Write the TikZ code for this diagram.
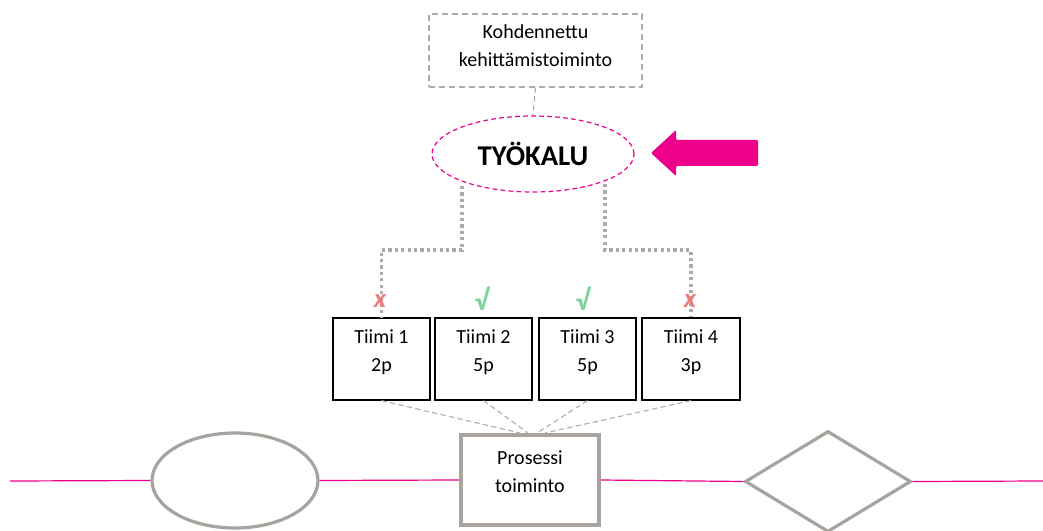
\documentclass[tikz,border=0pt]{standalone}
\usepackage{fontspec}
\setmainfont{Carlito}
\usetikzlibrary{shapes.geometric}
\definecolor{mag}{HTML}{EC008C}
\definecolor{gline}{HTML}{A8A39E}
\definecolor{dgrey}{HTML}{ABABAB}
\definecolor{xred}{HTML}{F07C7C}
\definecolor{vgreen}{HTML}{7ED39C}
\tikzset{
  txt/.style={font=\fontsize{15}{21}\selectfont, align=center},
  teambox/.style={txt, draw=black, line width=0.9pt, minimum width=72.75pt, minimum height=61.5pt, inner sep=0pt, text depth=12pt},
  dotline/.style={dgrey, line width=2.4pt, dash pattern=on 2.4pt off 2.4pt},
  thinDash/.style={dgrey, line width=0.8pt, dash pattern=on 4pt off 2.5pt},
  flow/.style={mag, line width=0.9pt},
  shapeline/.style={draw=gline, line width=2.4pt, fill=white},
  xmark/.style={text=xred, font=\fontsize{20}{20}\selectfont\bfseries\itshape},
  vmark/.style={text=vgreen, font=\fontsize{22}{22}\selectfont\bfseries},
}
\begin{document}
\begin{tikzpicture}[x=0.75pt,y=-0.75pt]
\useasboundingbox (0,0) rectangle (1043,531);
% top box
\node[txt, draw=dgrey, line width=0.8pt, dash pattern=on 4.5pt off 3pt, minimum width=159.75pt, minimum height=54.75pt, inner sep=0pt, text depth=7.5pt] (kb) at (535.5,50.5) {Kohdennettu\\kehittämistoiminto};
% tool ellipse
\node[ellipse, draw=mag, line width=0.9pt, dash pattern=on 3.5pt off 2.5pt, minimum width=151.5pt, minimum height=57pt, inner sep=0pt, font=\fontsize{21.5}{21.5}\selectfont\bfseries] (tool) at (533,154) {TYÖKALU};
\draw[thinDash] (kb.south) -- (tool.north);
% arrow
\fill[mag, rounded corners=0.8pt] (651,153) -- (676,130) -- (676,140) -- (758,140) -- (758,166) -- (676,166) -- (676,176) -- cycle;
% teams
\node[teambox] (t1) at (381.5,359) {Tiimi 1\\2p};
\node[teambox] (t2) at (483.5,359) {Tiimi 2\\5p};
\node[teambox] (t3) at (587.5,359) {Tiimi 3\\5p};
\node[teambox, minimum width=73.5pt] (t4) at (691,359) {Tiimi 4\\3p};
% dotted connectors
\coordinate (l1) at (462,186);
\coordinate (r1) at (605,184);
\draw[dotline] (l1) -- ++(0,64) -| (t1.north);
\draw[dotline] (r1) -- ++(0,66) -| (t4.north);
% marks
\node[xmark] (m1) at (380,301) {x};
\node[vmark] (m2) at (482,299) {√};
\node[vmark] (m3) at (583,299) {√};
\node[xmark] (m4) at (690,301) {x};
% process row
\node[shapeline, txt, draw=gline, line width=3pt, minimum width=103.5pt, minimum height=67.5pt, inner sep=0pt, text depth=13pt] (proc) at (530,480) {Prosessi\\toiminto};
\node[shapeline, ellipse, minimum width=124.5pt, minimum height=71.25pt, inner sep=0pt] (circ) at (235,480.5) {};
\node[shapeline, diamond, minimum width=124.5pt, minimum height=75.75pt, inner sep=0pt] (dia) at (828,481.5) {};
\coordinate (start) at (10,481);
\coordinate (end) at (1043,481);
\draw[flow] (start) -- (circ.west);
\draw[flow] (circ.east) -- (proc.west);
\draw[flow] (proc.east) -- (dia.west);
\draw[flow] (dia.east) -- (end);
% dashed to process
\coordinate (p1) at (520,433);
\coordinate (p2) at (528,433);
\coordinate (p3) at (537,433);
\coordinate (p4) at (545,433);
\draw[thinDash] (t1.south) -- (p1);
\draw[thinDash] (t2.south) -- (p2);
\draw[thinDash] (t3.south) -- (p3);
\draw[thinDash] (t4.south) -- (p4);
\end{tikzpicture}
\end{document}
